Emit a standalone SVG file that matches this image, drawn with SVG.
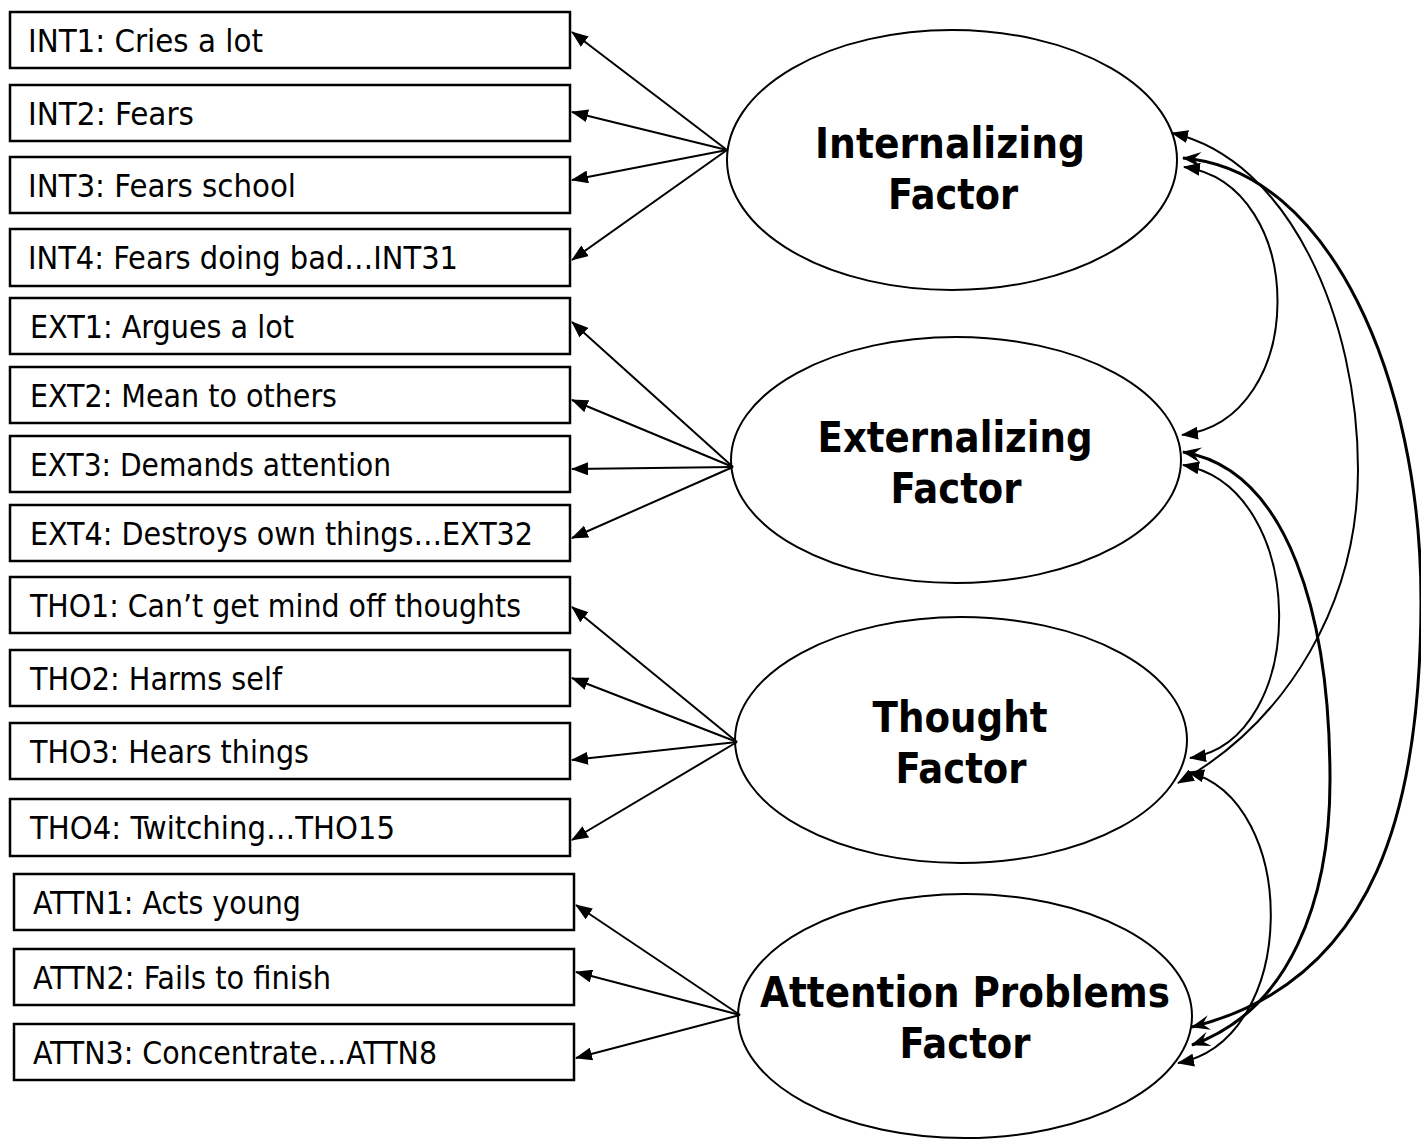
<svg xmlns="http://www.w3.org/2000/svg" width="1421" height="1140" viewBox="0 0 1421 1140">
  <style>
    .item rect { fill: #fff; stroke: #000; stroke-width: 2.5; }
    .item text { font-family: "DejaVu Sans Condensed", "DejaVu Sans", sans-serif; font-size: 32px; fill: #000; }
    .factor ellipse { fill: #fff; stroke: #000; stroke-width: 2; }
    .factor text { font-family: "DejaVu Sans Condensed", "DejaVu Sans", sans-serif; font-size: 42px; font-weight: bold; fill: #000; text-anchor: middle; }
    .load { fill: none; stroke: #000; stroke-width: 2; marker-end: url(#tri); }
    .cov { fill: none; stroke: #000; stroke-width: 2; marker-start: url(#tri); marker-end: url(#tri); }
    .cov.heavy { stroke-width: 3; marker-start: url(#barb); marker-end: url(#barb); }
  </style>
  <defs>
    <marker id="tri" markerUnits="userSpaceOnUse" markerWidth="17" markerHeight="13" refX="16" refY="6.5" orient="auto-start-reverse" viewBox="0 0 17 13">
      <path d="M0,0 L17,6.5 L0,13 Z" fill="#000"/>
    </marker>
    <marker id="barb" markerUnits="userSpaceOnUse" markerWidth="19" markerHeight="15" refX="18" refY="7.5" orient="auto-start-reverse" viewBox="0 0 19 15">
      <path d="M0,0 L19,7.5 L0,15 L7,7.5 Z" fill="#000"/>
    </marker>
  </defs>

  <!-- observed indicators -->
  <g id="INT1" class="item"><rect x="10" y="12" width="560" height="56"/><text x="28" y="52" textLength="235" lengthAdjust="spacingAndGlyphs">INT1: Cries a lot</text></g>
  <g id="INT2" class="item"><rect x="10" y="85" width="560" height="56"/><text x="28" y="125" textLength="166" lengthAdjust="spacingAndGlyphs">INT2: Fears</text></g>
  <g id="INT3" class="item"><rect x="10" y="157" width="560" height="56"/><text x="28" y="197" textLength="268" lengthAdjust="spacingAndGlyphs">INT3: Fears school</text></g>
  <g id="INT4" class="item"><rect x="10" y="229" width="560" height="57"/><text x="28" y="269" textLength="430" lengthAdjust="spacingAndGlyphs">INT4: Fears doing bad…INT31</text></g>
  <g id="EXT1" class="item"><rect x="10" y="298" width="560" height="56"/><text x="30" y="338" textLength="264" lengthAdjust="spacingAndGlyphs">EXT1: Argues a lot</text></g>
  <g id="EXT2" class="item"><rect x="10" y="367" width="560" height="56"/><text x="30" y="407" textLength="307" lengthAdjust="spacingAndGlyphs">EXT2: Mean to others</text></g>
  <g id="EXT3" class="item"><rect x="10" y="436" width="560" height="56"/><text x="30" y="476" textLength="361" lengthAdjust="spacingAndGlyphs">EXT3: Demands attention</text></g>
  <g id="EXT4" class="item"><rect x="10" y="505" width="560" height="56"/><text x="30" y="545" textLength="503" lengthAdjust="spacingAndGlyphs">EXT4: Destroys own things…EXT32</text></g>
  <g id="THO1" class="item"><rect x="10" y="577" width="560" height="56"/><text x="30" y="617" textLength="491" lengthAdjust="spacingAndGlyphs">THO1: Can’t get mind off thoughts</text></g>
  <g id="THO2" class="item"><rect x="10" y="650" width="560" height="56"/><text x="30" y="690" textLength="252" lengthAdjust="spacingAndGlyphs">THO2: Harms self</text></g>
  <g id="THO3" class="item"><rect x="10" y="723" width="560" height="56"/><text x="30" y="763" textLength="279" lengthAdjust="spacingAndGlyphs">THO3: Hears things</text></g>
  <g id="THO4" class="item"><rect x="10" y="799" width="560" height="57"/><text x="30" y="839" textLength="365" lengthAdjust="spacingAndGlyphs">THO4: Twitching…THO15</text></g>
  <g id="ATTN1" class="item"><rect x="14" y="874" width="560" height="56"/><text x="33" y="914" textLength="268" lengthAdjust="spacingAndGlyphs">ATTN1: Acts young</text></g>
  <g id="ATTN2" class="item"><rect x="14" y="949" width="560" height="56"/><text x="33" y="989" textLength="298" lengthAdjust="spacingAndGlyphs">ATTN2: Fails to finish</text></g>
  <g id="ATTN3" class="item"><rect x="14" y="1024" width="560" height="56"/><text x="33" y="1064" textLength="404" lengthAdjust="spacingAndGlyphs">ATTN3: Concentrate…ATTN8</text></g>

  <!-- latent factors -->
  <g id="internalizing" class="factor"><ellipse cx="952" cy="160" rx="225" ry="130"/><text x="950" y="158" textLength="270" lengthAdjust="spacingAndGlyphs">Internalizing</text><text x="953" y="209" textLength="130" lengthAdjust="spacingAndGlyphs">Factor</text></g>
  <g id="externalizing" class="factor"><ellipse cx="956" cy="460" rx="225" ry="123"/><text x="955" y="452" textLength="275" lengthAdjust="spacingAndGlyphs">Externalizing</text><text x="956" y="503" textLength="131" lengthAdjust="spacingAndGlyphs">Factor</text></g>
  <g id="thought" class="factor"><ellipse cx="961" cy="740" rx="226" ry="123"/><text x="960" y="732" textLength="175" lengthAdjust="spacingAndGlyphs">Thought</text><text x="961" y="783" textLength="131" lengthAdjust="spacingAndGlyphs">Factor</text></g>
  <g id="attention" class="factor"><ellipse cx="965" cy="1016" rx="227" ry="122"/><text x="965" y="1007" textLength="410" lengthAdjust="spacingAndGlyphs">Attention Problems</text><text x="965" y="1058" textLength="131" lengthAdjust="spacingAndGlyphs">Factor</text></g>

  <g id="connectors">
    <!-- factor loadings -->
    <path class="load" d="M727,150 L572,32"/>
    <path class="load" d="M727,150 L572,112"/>
    <path class="load" d="M727,150 L572,180"/>
    <path class="load" d="M727,150 L572,260"/>
    <path class="load" d="M733,467 L572,322"/>
    <path class="load" d="M733,467 L572,400"/>
    <path class="load" d="M733,467 L572,469"/>
    <path class="load" d="M733,467 L572,538"/>
    <path class="load" d="M737,742 L572,607"/>
    <path class="load" d="M737,742 L572,678"/>
    <path class="load" d="M737,742 L572,760"/>
    <path class="load" d="M737,742 L572,840"/>
    <path class="load" d="M740,1015 L576,905"/>
    <path class="load" d="M740,1015 L576,972"/>
    <path class="load" d="M740,1015 L576,1058"/>

    <!-- factor covariances -->
    <path class="cov" d="M1184,167 C1309,185 1309,420 1182,435"/>
    <path class="cov" d="M1172,133 C1290,160 1358,320 1358,470 C1358,600 1290,720 1178,783"/>
    <path class="cov heavy" d="M1183,158 C1330,170 1421,380 1421,600 C1421,800 1380,980 1192,1027"/>
    <path class="cov" d="M1183,465 C1310,488 1310,740 1190,758"/>
    <path class="cov heavy" d="M1183,452 C1290,470 1330,620 1330,780 C1330,900 1290,1010 1192,1045"/>
    <path class="cov" d="M1188,772 C1300,800 1300,1040 1178,1063"/>
  </g>
</svg>
